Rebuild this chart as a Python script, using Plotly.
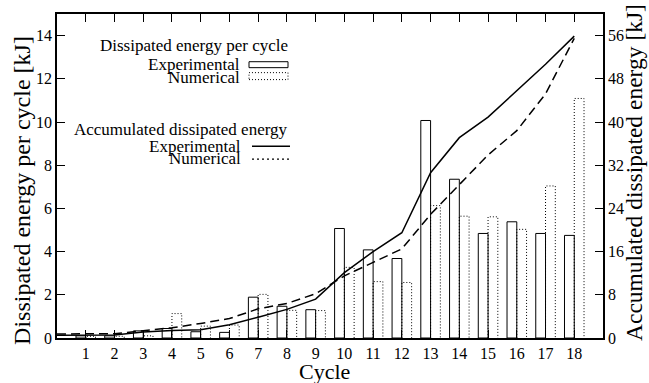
import plotly.graph_objects as go

# Cycle numbers
cycles = list(range(1, 19))

# Dissipated energy per cycle [kJ]
exp_per_cycle = [0.10, 0.10, 0.33, 0.44, 0.29, 0.26, 1.89, 1.47, 1.31, 5.07,
                 4.08, 3.68, 10.07, 7.35, 4.84, 5.38, 4.84, 4.75]
num_per_cycle = [0.08, 0.08, 0.10, 1.13, 0.55, 0.60, 2.02, 1.28, 1.27, 3.27,
                 2.61, 2.57, 6.13, 5.64, 5.61, 5.03, 7.04, 11.09]

# Accumulated dissipated energy [kJ], sampled from cycle 0 to cycle 18
acc_cycles = list(range(0, 19))
exp_accumulated = [0.5, 0.5, 0.55, 1.1, 1.4, 1.55, 2.45, 3.85, 5.3, 7.2,
                   12.1, 16.0, 19.5, 30.6, 37.1, 40.9, 45.8, 50.7, 55.9]
num_accumulated = [0.75, 0.75, 0.8, 1.35, 1.9, 2.7, 3.6, 5.4, 6.4, 8.2,
                   11.5, 14.0, 16.5, 22.9, 28.4, 33.9, 38.4, 45.2, 55.5]

left_ticks = list(range(0, 15, 2))
right_ticks = list(range(0, 57, 8))

BAR_W = 0.34
FONT = "Liberation Serif"

# Page geometry (pixels)
W, H = 649, 383
ML, MR, MT, MB = 57, 46, 12, 45
PW, PH = W - ML - MR, H - MT - MB


def px(x):
    return (x - ML) / PW


def py(y):
    return (H - MB - y) / PH


fig = go.Figure()

# Experimental per-cycle bars: solid outline, left of each cycle tick
fig.add_trace(go.Bar(
    x=cycles, y=exp_per_cycle, width=BAR_W, offset=-BAR_W,
    marker=dict(color="rgba(0,0,0,0)", line=dict(color="black", width=1)),
    showlegend=False, hoverinfo="skip",
))

# Numerical per-cycle bars: dotted outline, right of each cycle tick
bx, by = [], []
for c, v in zip(cycles, num_per_cycle):
    bx += [c, c, c + BAR_W, c + BAR_W, None]
    by += [0, v, v, 0, None]
fig.add_trace(go.Scatter(
    x=bx, y=by, mode="lines",
    line=dict(color="black", width=1, dash="1px,2px"),
    showlegend=False, hoverinfo="skip",
))

# Accumulated energy curves on the secondary axis
fig.add_trace(go.Scatter(
    x=acc_cycles, y=exp_accumulated, mode="lines", yaxis="y2",
    line=dict(color="black", width=1.5),
    showlegend=False,
))
fig.add_trace(go.Scatter(
    x=acc_cycles, y=num_accumulated, mode="lines", yaxis="y2",
    line=dict(color="black", width=1.5, dash="9px,5px"),
    showlegend=False,
))

axis_common = dict(
    showgrid=False, zeroline=False, showline=True, linecolor="black",
    linewidth=1.5, ticks="inside", ticklen=8, tickcolor="black", tickwidth=1,
    tickfont=dict(family=FONT, size=16, color="black"),
)

fig.update_layout(
    width=W, height=H,
    margin=dict(l=ML, r=MR, t=MT, b=MB, pad=0),
    paper_bgcolor="white", plot_bgcolor="white",
    xaxis=dict(range=[0, 19], tickvals=cycles, mirror="ticks", **axis_common),
    yaxis=dict(range=[0, 15], tickvals=left_ticks, mirror=True, **axis_common),
    yaxis2=dict(range=[0, 60], tickvals=right_ticks, overlaying="y",
                side="right", **axis_common),
    font=dict(family=FONT, color="black"),
)

ann = []
# Axis titles
ann.append(dict(text="Cycle", x=px(324), y=py(371.5), xref="paper", yref="paper",
                showarrow=False, font=dict(family=FONT, size=22),
                xanchor="center", yanchor="middle", borderpad=0))
ann.append(dict(text="Dissipated energy per cycle [kJ]", x=px(22), y=py(190),
                xref="paper", yref="paper", textangle=-90, showarrow=False,
                font=dict(family=FONT, size=24), xanchor="center", yanchor="middle"))
ann.append(dict(text="Accumulated dissipated energy [kJ]", x=px(634), y=py(172),
                xref="paper", yref="paper", textangle=-90, showarrow=False,
                font=dict(family=FONT, size=23.5), xanchor="center", yanchor="middle"))

# Key text
key_rows = [
    ("Dissipated energy per cycle", 290, 44),
    ("Experimental", 242, 63),
    ("Numerical", 242, 76),
    ("Accumulated dissipated energy", 290, 128),
    ("Experimental", 243, 145),
    ("Numerical", 243, 157),
]
for text, xr, yc in key_rows:
    ann.append(dict(text=text, x=px(xr), y=py(yc), xref="paper", yref="paper",
                    showarrow=False, font=dict(family=FONT, size=17),
                    xanchor="right", yanchor="middle"))

shapes = [
    dict(type="rect", xref="paper", yref="paper", x0=px(249), x1=px(288),
         y0=py(66), y1=py(60), line=dict(color="black", width=1)),
    dict(type="rect", xref="paper", yref="paper", x0=px(249), x1=px(288),
         y0=py(78), y1=py(71), line=dict(color="black", width=1, dash="1px,2px")),
    dict(type="line", xref="paper", yref="paper", x0=px(252), x1=px(290),
         y0=py(145), y1=py(145), line=dict(color="black", width=1.5)),
    dict(type="line", xref="paper", yref="paper", x0=px(252), x1=px(290),
         y0=py(158), y1=py(158), line=dict(color="black", width=1.2, dash="2px,3px")),
]

fig.update_layout(annotations=ann, shapes=shapes)

fig.write_html("out.html")
